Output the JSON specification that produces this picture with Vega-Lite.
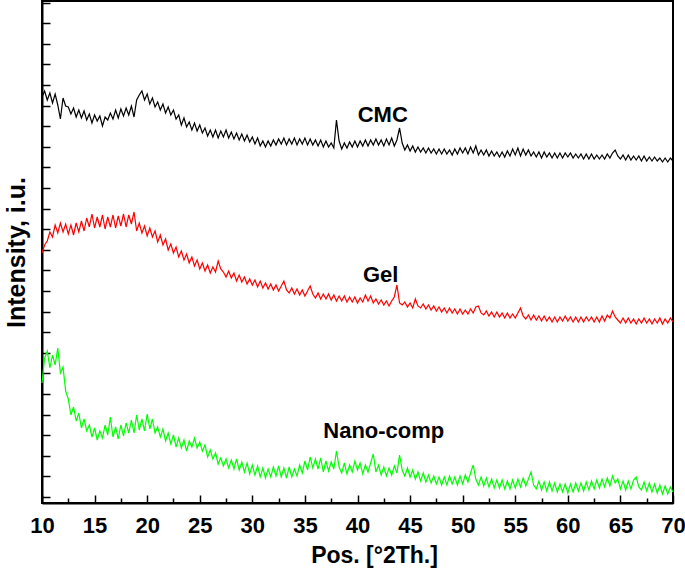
{
  "$schema": "https://vega.github.io/schema/vega-lite/v6.json",
  "width": 631,
  "height": 502,
  "autosize": "none",
  "padding": {"left": 42, "top": 1, "right": 12, "bottom": 66},
  "config": {
    "view": {"stroke": "#000", "strokeWidth": 2},
    "font": "Liberation Sans",
    "axis": {"domainColor": "#000", "domainWidth": 2, "tickColor": "#000", "tickWidth": 1.5, "grid": false,
      "labelFont": "Liberation Sans", "labelFontWeight": "bold", "labelFontSize": 22, "labelColor": "#000",
      "titleFont": "Liberation Sans", "titleFontWeight": "bold", "titleFontSize": 23, "titleColor": "#000"}
  },
  "datasets": {
    "cmc": [
      {"x":10,"y":406},{"x":10.25,"y":412},{"x":10.5,"y":403},{"x":10.75,"y":410},{"x":11,"y":400},{"x":11.25,"y":409},{"x":11.5,"y":398},{"x":11.75,"y":384},{"x":12,"y":405},{"x":12.25,"y":397},
      {"x":12.5,"y":396},{"x":12.75,"y":389},{"x":13,"y":395},{"x":13.25,"y":386},{"x":13.5,"y":393},{"x":13.75,"y":385},{"x":14,"y":392},{"x":14.25,"y":383},{"x":14.5,"y":389},{"x":14.75,"y":380},
      {"x":15,"y":388},{"x":15.25,"y":382},{"x":15.5,"y":387},{"x":15.75,"y":377},{"x":16,"y":386},{"x":16.25,"y":383},{"x":16.5,"y":390},{"x":16.75,"y":384},{"x":17,"y":393},{"x":17.25,"y":385},
      {"x":17.5,"y":394},{"x":17.75,"y":387},{"x":18,"y":395},{"x":18.25,"y":388},{"x":18.5,"y":397},{"x":18.75,"y":386},{"x":19,"y":403},{"x":19.25,"y":408},{"x":19.5,"y":412},{"x":19.75,"y":403},
      {"x":20,"y":409},{"x":20.25,"y":399},{"x":20.5,"y":405},{"x":20.75,"y":396},{"x":21,"y":401},{"x":21.25,"y":393},{"x":21.5,"y":399},{"x":21.75,"y":390},{"x":22,"y":396},{"x":22.25,"y":388},
      {"x":22.5,"y":393},{"x":22.75,"y":384},{"x":23,"y":388},{"x":23.25,"y":378},{"x":23.5,"y":385},{"x":23.75,"y":376},{"x":24,"y":381},{"x":24.25,"y":373},{"x":24.5,"y":380},{"x":24.75,"y":372},
      {"x":25,"y":378},{"x":25.25,"y":370},{"x":25.5,"y":375},{"x":25.75,"y":367},{"x":26,"y":373},{"x":26.25,"y":366},{"x":26.5,"y":373},{"x":26.75,"y":365},{"x":27,"y":372},{"x":27.25,"y":366},
      {"x":27.5,"y":373},{"x":27.75,"y":365},{"x":28,"y":371},{"x":28.25,"y":364},{"x":28.5,"y":370},{"x":28.75,"y":363},{"x":29,"y":369},{"x":29.25,"y":362},{"x":29.5,"y":368},{"x":29.75,"y":361},
      {"x":30,"y":366},{"x":30.25,"y":359},{"x":30.5,"y":365},{"x":30.75,"y":357},{"x":31,"y":362},{"x":31.25,"y":356},{"x":31.5,"y":362},{"x":31.75,"y":357},{"x":32,"y":363},{"x":32.25,"y":358},
      {"x":32.5,"y":364},{"x":32.75,"y":359},{"x":33,"y":365},{"x":33.25,"y":358},{"x":33.5,"y":364},{"x":33.75,"y":359},{"x":34,"y":365},{"x":34.25,"y":358},{"x":34.5,"y":364},{"x":34.75,"y":359},
      {"x":35,"y":365},{"x":35.25,"y":358},{"x":35.5,"y":364},{"x":35.75,"y":358},{"x":36,"y":363},{"x":36.25,"y":357},{"x":36.5,"y":363},{"x":36.75,"y":356},{"x":37,"y":362},{"x":37.25,"y":356},
      {"x":37.5,"y":360},{"x":37.75,"y":355},{"x":38,"y":383},{"x":38.25,"y":362},{"x":38.5,"y":354},{"x":38.75,"y":360},{"x":39,"y":355},{"x":39.25,"y":361},{"x":39.5,"y":356},{"x":39.75,"y":362},
      {"x":40,"y":356},{"x":40.25,"y":362},{"x":40.5,"y":357},{"x":40.75,"y":363},{"x":41,"y":357},{"x":41.25,"y":363},{"x":41.5,"y":358},{"x":41.75,"y":364},{"x":42,"y":358},{"x":42.25,"y":363},
      {"x":42.5,"y":357},{"x":42.75,"y":364},{"x":43,"y":358},{"x":43.25,"y":365},{"x":43.5,"y":357},{"x":43.75,"y":363},{"x":44,"y":375},{"x":44.25,"y":360},{"x":44.5,"y":353},{"x":44.75,"y":358},
      {"x":45,"y":352},{"x":45.25,"y":357},{"x":45.5,"y":351},{"x":45.75,"y":356},{"x":46,"y":351},{"x":46.25,"y":355},{"x":46.5,"y":350},{"x":46.75,"y":355},{"x":47,"y":350},{"x":47.25,"y":354},
      {"x":47.5,"y":349},{"x":47.75,"y":354},{"x":48,"y":349},{"x":48.25,"y":354},{"x":48.5,"y":349},{"x":48.75,"y":353},{"x":49,"y":348},{"x":49.25,"y":354},{"x":49.5,"y":349},{"x":49.75,"y":355},
      {"x":50,"y":350},{"x":50.25,"y":355},{"x":50.5,"y":349},{"x":50.75,"y":356},{"x":51,"y":350},{"x":51.25,"y":357},{"x":51.5,"y":348},{"x":51.75,"y":353},{"x":52,"y":348},{"x":52.25,"y":353},
      {"x":52.5,"y":347},{"x":52.75,"y":352},{"x":53,"y":347},{"x":53.25,"y":351},{"x":53.5,"y":346},{"x":53.75,"y":351},{"x":54,"y":346},{"x":54.25,"y":352},{"x":54.5,"y":347},{"x":54.75,"y":354},
      {"x":55,"y":348},{"x":55.25,"y":355},{"x":55.5,"y":347},{"x":55.75,"y":354},{"x":56,"y":348},{"x":56.25,"y":353},{"x":56.5,"y":347},{"x":56.75,"y":351},{"x":57,"y":346},{"x":57.25,"y":351},
      {"x":57.5,"y":345},{"x":57.75,"y":351},{"x":58,"y":346},{"x":58.25,"y":350},{"x":58.5,"y":345},{"x":58.75,"y":350},{"x":59,"y":345},{"x":59.25,"y":350},{"x":59.5,"y":345},{"x":59.75,"y":350},
      {"x":60,"y":346},{"x":60.25,"y":350},{"x":60.5,"y":345},{"x":60.75,"y":349},{"x":61,"y":345},{"x":61.25,"y":349},{"x":61.5,"y":344},{"x":61.75,"y":349},{"x":62,"y":344},{"x":62.25,"y":349},
      {"x":62.5,"y":344},{"x":62.75,"y":348},{"x":63,"y":344},{"x":63.25,"y":348},{"x":63.5,"y":344},{"x":63.75,"y":349},{"x":64,"y":345},{"x":64.25,"y":350},{"x":64.5,"y":353},{"x":64.75,"y":347},
      {"x":65,"y":344},{"x":65.25,"y":348},{"x":65.5,"y":343},{"x":65.75,"y":348},{"x":66,"y":343},{"x":66.25,"y":347},{"x":66.5,"y":343},{"x":66.75,"y":347},{"x":67,"y":342},{"x":67.25,"y":347},
      {"x":67.5,"y":342},{"x":67.75,"y":346},{"x":68,"y":342},{"x":68.25,"y":346},{"x":68.5,"y":342},{"x":68.75,"y":345},{"x":69,"y":341},{"x":69.25,"y":345},{"x":69.5,"y":341},{"x":69.75,"y":345},
      {"x":70,"y":342}
    ],
    "gel": [
      {"x":10,"y":250},{"x":10.25,"y":258},{"x":10.5,"y":262},{"x":10.75,"y":271},{"x":11,"y":266},{"x":11.25,"y":278},{"x":11.5,"y":270},{"x":11.75,"y":280},{"x":12,"y":271},{"x":12.25,"y":279},
      {"x":12.5,"y":269},{"x":12.75,"y":278},{"x":13,"y":268},{"x":13.25,"y":280},{"x":13.5,"y":271},{"x":13.75,"y":282},{"x":14,"y":272},{"x":14.25,"y":285},{"x":14.5,"y":276},{"x":14.75,"y":289},
      {"x":15,"y":275},{"x":15.25,"y":286},{"x":15.5,"y":276},{"x":15.75,"y":288},{"x":16,"y":274},{"x":16.25,"y":286},{"x":16.5,"y":276},{"x":16.75,"y":288},{"x":17,"y":275},{"x":17.25,"y":287},
      {"x":17.5,"y":277},{"x":17.75,"y":289},{"x":18,"y":276},{"x":18.25,"y":288},{"x":18.5,"y":279},{"x":18.75,"y":291},{"x":19,"y":272},{"x":19.25,"y":280},{"x":19.5,"y":270},{"x":19.75,"y":277},
      {"x":20,"y":267},{"x":20.25,"y":275},{"x":20.5,"y":266},{"x":20.75,"y":272},{"x":21,"y":261},{"x":21.25,"y":268},{"x":21.5,"y":258},{"x":21.75,"y":264},{"x":22,"y":253},{"x":22.25,"y":259},
      {"x":22.5,"y":250},{"x":22.75,"y":256},{"x":23,"y":246},{"x":23.25,"y":252},{"x":23.5,"y":243},{"x":23.75,"y":249},{"x":24,"y":240},{"x":24.25,"y":246},{"x":24.5,"y":237},{"x":24.75,"y":243},
      {"x":25,"y":234},{"x":25.25,"y":240},{"x":25.5,"y":232},{"x":25.75,"y":238},{"x":26,"y":230},{"x":26.25,"y":236},{"x":26.5,"y":231},{"x":26.75,"y":242},{"x":27,"y":234},{"x":27.25,"y":231},
      {"x":27.5,"y":226},{"x":27.75,"y":232},{"x":28,"y":225},{"x":28.25,"y":230},{"x":28.5,"y":222},{"x":28.75,"y":228},{"x":29,"y":221},{"x":29.25,"y":226},{"x":29.5,"y":219},{"x":29.75,"y":224},
      {"x":30,"y":218},{"x":30.25,"y":223},{"x":30.5,"y":216},{"x":30.75,"y":222},{"x":31,"y":215},{"x":31.25,"y":220},{"x":31.5,"y":214},{"x":31.75,"y":219},{"x":32,"y":213},{"x":32.25,"y":218},
      {"x":32.5,"y":212},{"x":32.75,"y":217},{"x":33,"y":222},{"x":33.25,"y":213},{"x":33.5,"y":210},{"x":33.75,"y":215},{"x":34,"y":209},{"x":34.25,"y":214},{"x":34.5,"y":208},{"x":34.75,"y":213},
      {"x":35,"y":207},{"x":35.25,"y":212},{"x":35.5,"y":217},{"x":35.75,"y":209},{"x":36,"y":205},{"x":36.25,"y":210},{"x":36.5,"y":204},{"x":36.75,"y":209},{"x":37,"y":204},{"x":37.25,"y":209},
      {"x":37.5,"y":203},{"x":37.75,"y":208},{"x":38,"y":202},{"x":38.25,"y":207},{"x":38.5,"y":202},{"x":38.75,"y":207},{"x":39,"y":201},{"x":39.25,"y":206},{"x":39.5,"y":201},{"x":39.75,"y":206},
      {"x":40,"y":200},{"x":40.25,"y":205},{"x":40.5,"y":201},{"x":40.75,"y":208},{"x":41,"y":202},{"x":41.25,"y":207},{"x":41.5,"y":200},{"x":41.75,"y":204},{"x":42,"y":199},{"x":42.25,"y":203},
      {"x":42.5,"y":198},{"x":42.75,"y":202},{"x":43,"y":197},{"x":43.25,"y":202},{"x":43.5,"y":206},{"x":43.75,"y":218},{"x":44,"y":200},{"x":44.25,"y":198},{"x":44.5,"y":201},{"x":44.75,"y":196},
      {"x":45,"y":200},{"x":45.25,"y":195},{"x":45.5,"y":204},{"x":45.75,"y":197},{"x":46,"y":195},{"x":46.25,"y":199},{"x":46.5,"y":194},{"x":46.75,"y":198},{"x":47,"y":193},{"x":47.25,"y":197},
      {"x":47.5,"y":192},{"x":47.75,"y":196},{"x":48,"y":191},{"x":48.25,"y":195},{"x":48.5,"y":190},{"x":48.75,"y":195},{"x":49,"y":190},{"x":49.25,"y":194},{"x":49.5,"y":189},{"x":49.75,"y":194},
      {"x":50,"y":189},{"x":50.25,"y":193},{"x":50.5,"y":189},{"x":50.75,"y":194},{"x":51,"y":190},{"x":51.25,"y":196},{"x":51.5,"y":197},{"x":51.75,"y":190},{"x":52,"y":188},{"x":52.25,"y":192},
      {"x":52.5,"y":187},{"x":52.75,"y":191},{"x":53,"y":186},{"x":53.25,"y":191},{"x":53.5,"y":186},{"x":53.75,"y":190},{"x":54,"y":185},{"x":54.25,"y":190},{"x":54.5,"y":185},{"x":54.75,"y":189},
      {"x":55,"y":185},{"x":55.25,"y":190},{"x":55.5,"y":195},{"x":55.75,"y":187},{"x":56,"y":184},{"x":56.25,"y":188},{"x":56.5,"y":183},{"x":56.75,"y":188},{"x":57,"y":183},{"x":57.25,"y":187},
      {"x":57.5,"y":182},{"x":57.75,"y":187},{"x":58,"y":182},{"x":58.25,"y":186},{"x":58.5,"y":181},{"x":58.75,"y":186},{"x":59,"y":181},{"x":59.25,"y":186},{"x":59.5,"y":182},{"x":59.75,"y":187},
      {"x":60,"y":182},{"x":60.25,"y":186},{"x":60.5,"y":181},{"x":60.75,"y":186},{"x":61,"y":181},{"x":61.25,"y":186},{"x":61.5,"y":181},{"x":61.75,"y":186},{"x":62,"y":182},{"x":62.25,"y":186},
      {"x":62.5,"y":181},{"x":62.75,"y":186},{"x":63,"y":181},{"x":63.25,"y":187},{"x":63.5,"y":182},{"x":63.75,"y":188},{"x":64,"y":185},{"x":64.25,"y":192},{"x":64.5,"y":186},{"x":64.75,"y":183},
      {"x":65,"y":180},{"x":65.25,"y":185},{"x":65.5,"y":180},{"x":65.75,"y":185},{"x":66,"y":180},{"x":66.25,"y":184},{"x":66.5,"y":179},{"x":66.75,"y":184},{"x":67,"y":180},{"x":67.25,"y":185},
      {"x":67.5,"y":180},{"x":67.75,"y":184},{"x":68,"y":179},{"x":68.25,"y":184},{"x":68.5,"y":180},{"x":68.75,"y":185},{"x":69,"y":179},{"x":69.25,"y":184},{"x":69.5,"y":180},{"x":69.75,"y":185},
      {"x":70,"y":181}
    ],
    "nano": [
      {"x":10,"y":120},{"x":10.25,"y":145},{"x":10.5,"y":152},{"x":10.75,"y":135},{"x":11,"y":148},{"x":11.25,"y":138},{"x":11.5,"y":155},{"x":11.75,"y":130},{"x":12,"y":136},{"x":12.25,"y":112},
      {"x":12.5,"y":104},{"x":12.75,"y":88},{"x":13,"y":96},{"x":13.25,"y":82},{"x":13.5,"y":90},{"x":13.75,"y":75},{"x":14,"y":84},{"x":14.25,"y":72},{"x":14.5,"y":78},{"x":14.75,"y":66},
      {"x":15,"y":75},{"x":15.25,"y":63},{"x":15.5,"y":72},{"x":15.75,"y":65},{"x":16,"y":78},{"x":16.25,"y":68},{"x":16.5,"y":86},{"x":16.75,"y":66},{"x":17,"y":76},{"x":17.25,"y":64},
      {"x":17.5,"y":78},{"x":17.75,"y":67},{"x":18,"y":80},{"x":18.25,"y":70},{"x":18.5,"y":83},{"x":18.75,"y":70},{"x":19,"y":88},{"x":19.25,"y":73},{"x":19.5,"y":84},{"x":19.75,"y":72},
      {"x":20,"y":89},{"x":20.25,"y":74},{"x":20.5,"y":84},{"x":20.75,"y":70},{"x":21,"y":76},{"x":21.25,"y":66},{"x":21.5,"y":74},{"x":21.75,"y":62},{"x":22,"y":70},{"x":22.25,"y":59},
      {"x":22.5,"y":68},{"x":22.75,"y":56},{"x":23,"y":65},{"x":23.25,"y":55},{"x":23.5,"y":63},{"x":23.75,"y":52},{"x":24,"y":62},{"x":24.25,"y":56},{"x":24.5,"y":65},{"x":24.75,"y":55},
      {"x":25,"y":61},{"x":25.25,"y":52},{"x":25.5,"y":58},{"x":25.75,"y":46},{"x":26,"y":53},{"x":26.25,"y":44},{"x":26.5,"y":50},{"x":26.75,"y":39},{"x":27,"y":45},{"x":27.25,"y":37},
      {"x":27.5,"y":44},{"x":27.75,"y":35},{"x":28,"y":43},{"x":28.25,"y":34},{"x":28.5,"y":44},{"x":28.75,"y":33},{"x":29,"y":41},{"x":29.25,"y":31},{"x":29.5,"y":40},{"x":29.75,"y":29},
      {"x":30,"y":38},{"x":30.25,"y":28},{"x":30.5,"y":37},{"x":30.75,"y":26},{"x":31,"y":35},{"x":31.25,"y":25},{"x":31.5,"y":34},{"x":31.75,"y":26},{"x":32,"y":36},{"x":32.25,"y":27},
      {"x":32.5,"y":37},{"x":32.75,"y":26},{"x":33,"y":35},{"x":33.25,"y":25},{"x":33.5,"y":36},{"x":33.75,"y":26},{"x":34,"y":34},{"x":34.25,"y":27},{"x":34.5,"y":38},{"x":34.75,"y":30},
      {"x":35,"y":42},{"x":35.25,"y":33},{"x":35.5,"y":46},{"x":35.75,"y":35},{"x":36,"y":44},{"x":36.25,"y":34},{"x":36.5,"y":45},{"x":36.75,"y":31},{"x":37,"y":42},{"x":37.25,"y":32},
      {"x":37.5,"y":41},{"x":37.75,"y":34},{"x":38,"y":52},{"x":38.25,"y":36},{"x":38.5,"y":30},{"x":38.75,"y":40},{"x":39,"y":29},{"x":39.25,"y":38},{"x":39.5,"y":31},{"x":39.75,"y":42},
      {"x":40,"y":33},{"x":40.25,"y":40},{"x":40.5,"y":29},{"x":40.75,"y":38},{"x":41,"y":31},{"x":41.25,"y":40},{"x":41.5,"y":49},{"x":41.75,"y":31},{"x":42,"y":38},{"x":42.25,"y":28},
      {"x":42.5,"y":36},{"x":42.75,"y":27},{"x":43,"y":35},{"x":43.25,"y":28},{"x":43.5,"y":37},{"x":43.75,"y":30},{"x":44,"y":48},{"x":44.25,"y":33},{"x":44.5,"y":27},{"x":44.75,"y":35},
      {"x":45,"y":26},{"x":45.25,"y":33},{"x":45.5,"y":24},{"x":45.75,"y":31},{"x":46,"y":22},{"x":46.25,"y":30},{"x":46.5,"y":21},{"x":46.75,"y":28},{"x":47,"y":20},{"x":47.25,"y":27},
      {"x":47.5,"y":19},{"x":47.75,"y":26},{"x":48,"y":18},{"x":48.25,"y":26},{"x":48.5,"y":18},{"x":48.75,"y":27},{"x":49,"y":19},{"x":49.25,"y":26},{"x":49.5,"y":18},{"x":49.75,"y":27},
      {"x":50,"y":19},{"x":50.25,"y":28},{"x":50.5,"y":21},{"x":50.75,"y":30},{"x":51,"y":38},{"x":51.25,"y":24},{"x":51.5,"y":18},{"x":51.75,"y":26},{"x":52,"y":17},{"x":52.25,"y":25},
      {"x":52.5,"y":16},{"x":52.75,"y":24},{"x":53,"y":15},{"x":53.25,"y":23},{"x":53.5,"y":15},{"x":53.75,"y":23},{"x":54,"y":14},{"x":54.25,"y":22},{"x":54.5,"y":14},{"x":54.75,"y":23},
      {"x":55,"y":15},{"x":55.25,"y":24},{"x":55.5,"y":16},{"x":55.75,"y":25},{"x":56,"y":17},{"x":56.25,"y":24},{"x":56.5,"y":31},{"x":56.75,"y":18},{"x":57,"y":14},{"x":57.25,"y":22},
      {"x":57.5,"y":13},{"x":57.75,"y":21},{"x":58,"y":12},{"x":58.25,"y":21},{"x":58.5,"y":12},{"x":58.75,"y":20},{"x":59,"y":11},{"x":59.25,"y":19},{"x":59.5,"y":11},{"x":59.75,"y":19},
      {"x":60,"y":10},{"x":60.25,"y":19},{"x":60.5,"y":11},{"x":60.75,"y":20},{"x":61,"y":12},{"x":61.25,"y":20},{"x":61.5,"y":12},{"x":61.75,"y":21},{"x":62,"y":13},{"x":62.25,"y":22},
      {"x":62.5,"y":14},{"x":62.75,"y":23},{"x":63,"y":15},{"x":63.25,"y":24},{"x":63.5,"y":16},{"x":63.75,"y":25},{"x":64,"y":17},{"x":64.25,"y":27},{"x":64.5,"y":20},{"x":64.75,"y":24},
      {"x":65,"y":14},{"x":65.25,"y":22},{"x":65.5,"y":13},{"x":65.75,"y":22},{"x":66,"y":14},{"x":66.25,"y":23},{"x":66.5,"y":26},{"x":66.75,"y":16},{"x":67,"y":13},{"x":67.25,"y":21},
      {"x":67.5,"y":12},{"x":67.75,"y":20},{"x":68,"y":11},{"x":68.25,"y":19},{"x":68.5,"y":10},{"x":68.75,"y":18},{"x":69,"y":9},{"x":69.25,"y":17},{"x":69.5,"y":9},{"x":69.75,"y":16},
      {"x":70,"y":11}
    ],
    "labels": [
      {"x":42.4,"y":388,"label":"CMC"},
      {"x":42.2,"y":228,"label":"Gel"},
      {"x":42.5,"y":72,"label":"Nano-comp"}
    ]
  },
  "resolve": {"axis": {"x": "independent", "y": "independent"}},
  "layer": [
    {
      "data": {"name": "cmc"},
      "mark": {"type": "line", "color": "#000", "strokeWidth": 1.2},
      "encoding": {
        "x": {"field": "x", "type": "quantitative",
          "scale": {"domain": [10, 70], "nice": false, "zero": false},
          "axis": {"orient": "bottom", "title": "Pos. [°2Th.]", "values": [10,15,20,25,30,35,40,45,50,55,60,65,70],
            "tickSize": -8, "labelPadding": 20, "titlePadding": 8, "titleX": 332, "titleAnchor": null, "labelFlush": false}},
        "y": {"field": "y", "type": "quantitative",
          "scale": {"domain": [0, 502], "nice": false, "zero": false},
          "axis": {"orient": "left", "title": "Intensity, i.u.", "labels": false, "titleFontSize": 25,
            "values": [6,26.6,47.2,67.8,88.4,109,129.6,150.2,170.8,191.4,212,232.6,253.2,273.8,294.4,315,335.6,356.2,376.8,397.4,418,438.6,459.2,479.8,500.4],
            "tickSize": -8, "titlePadding": 12}}
      }
    },
    {
      "data": {"name": "gel"},
      "mark": {"type": "line", "color": "#ff0000", "strokeWidth": 1.2},
      "encoding": {
        "x": {"field": "x", "type": "quantitative", "axis": null},
        "y": {"field": "y", "type": "quantitative", "axis": null}
      }
    },
    {
      "data": {"name": "nano"},
      "mark": {"type": "line", "color": "#00ff00", "strokeWidth": 1.2},
      "encoding": {
        "x": {"field": "x", "type": "quantitative",
          "axis": {"orient": "bottom", "title": null, "labels": false, "domain": false,
            "values": [12.5,17.5,22.5,27.5,32.5,37.5,42.5,47.5,52.5,57.5,62.5,67.5], "tickSize": -5}},
        "y": {"field": "y", "type": "quantitative", "axis": null}
      }
    },
    {
      "data": {"name": "labels"},
      "mark": {"type": "text", "font": "Liberation Sans", "fontWeight": "bold", "fontSize": 22, "color": "#000", "align": "center", "baseline": "middle"},
      "encoding": {
        "x": {"field": "x", "type": "quantitative", "axis": null},
        "y": {"field": "y", "type": "quantitative", "axis": null},
        "text": {"field": "label"}
      }
    }
  ]
}
